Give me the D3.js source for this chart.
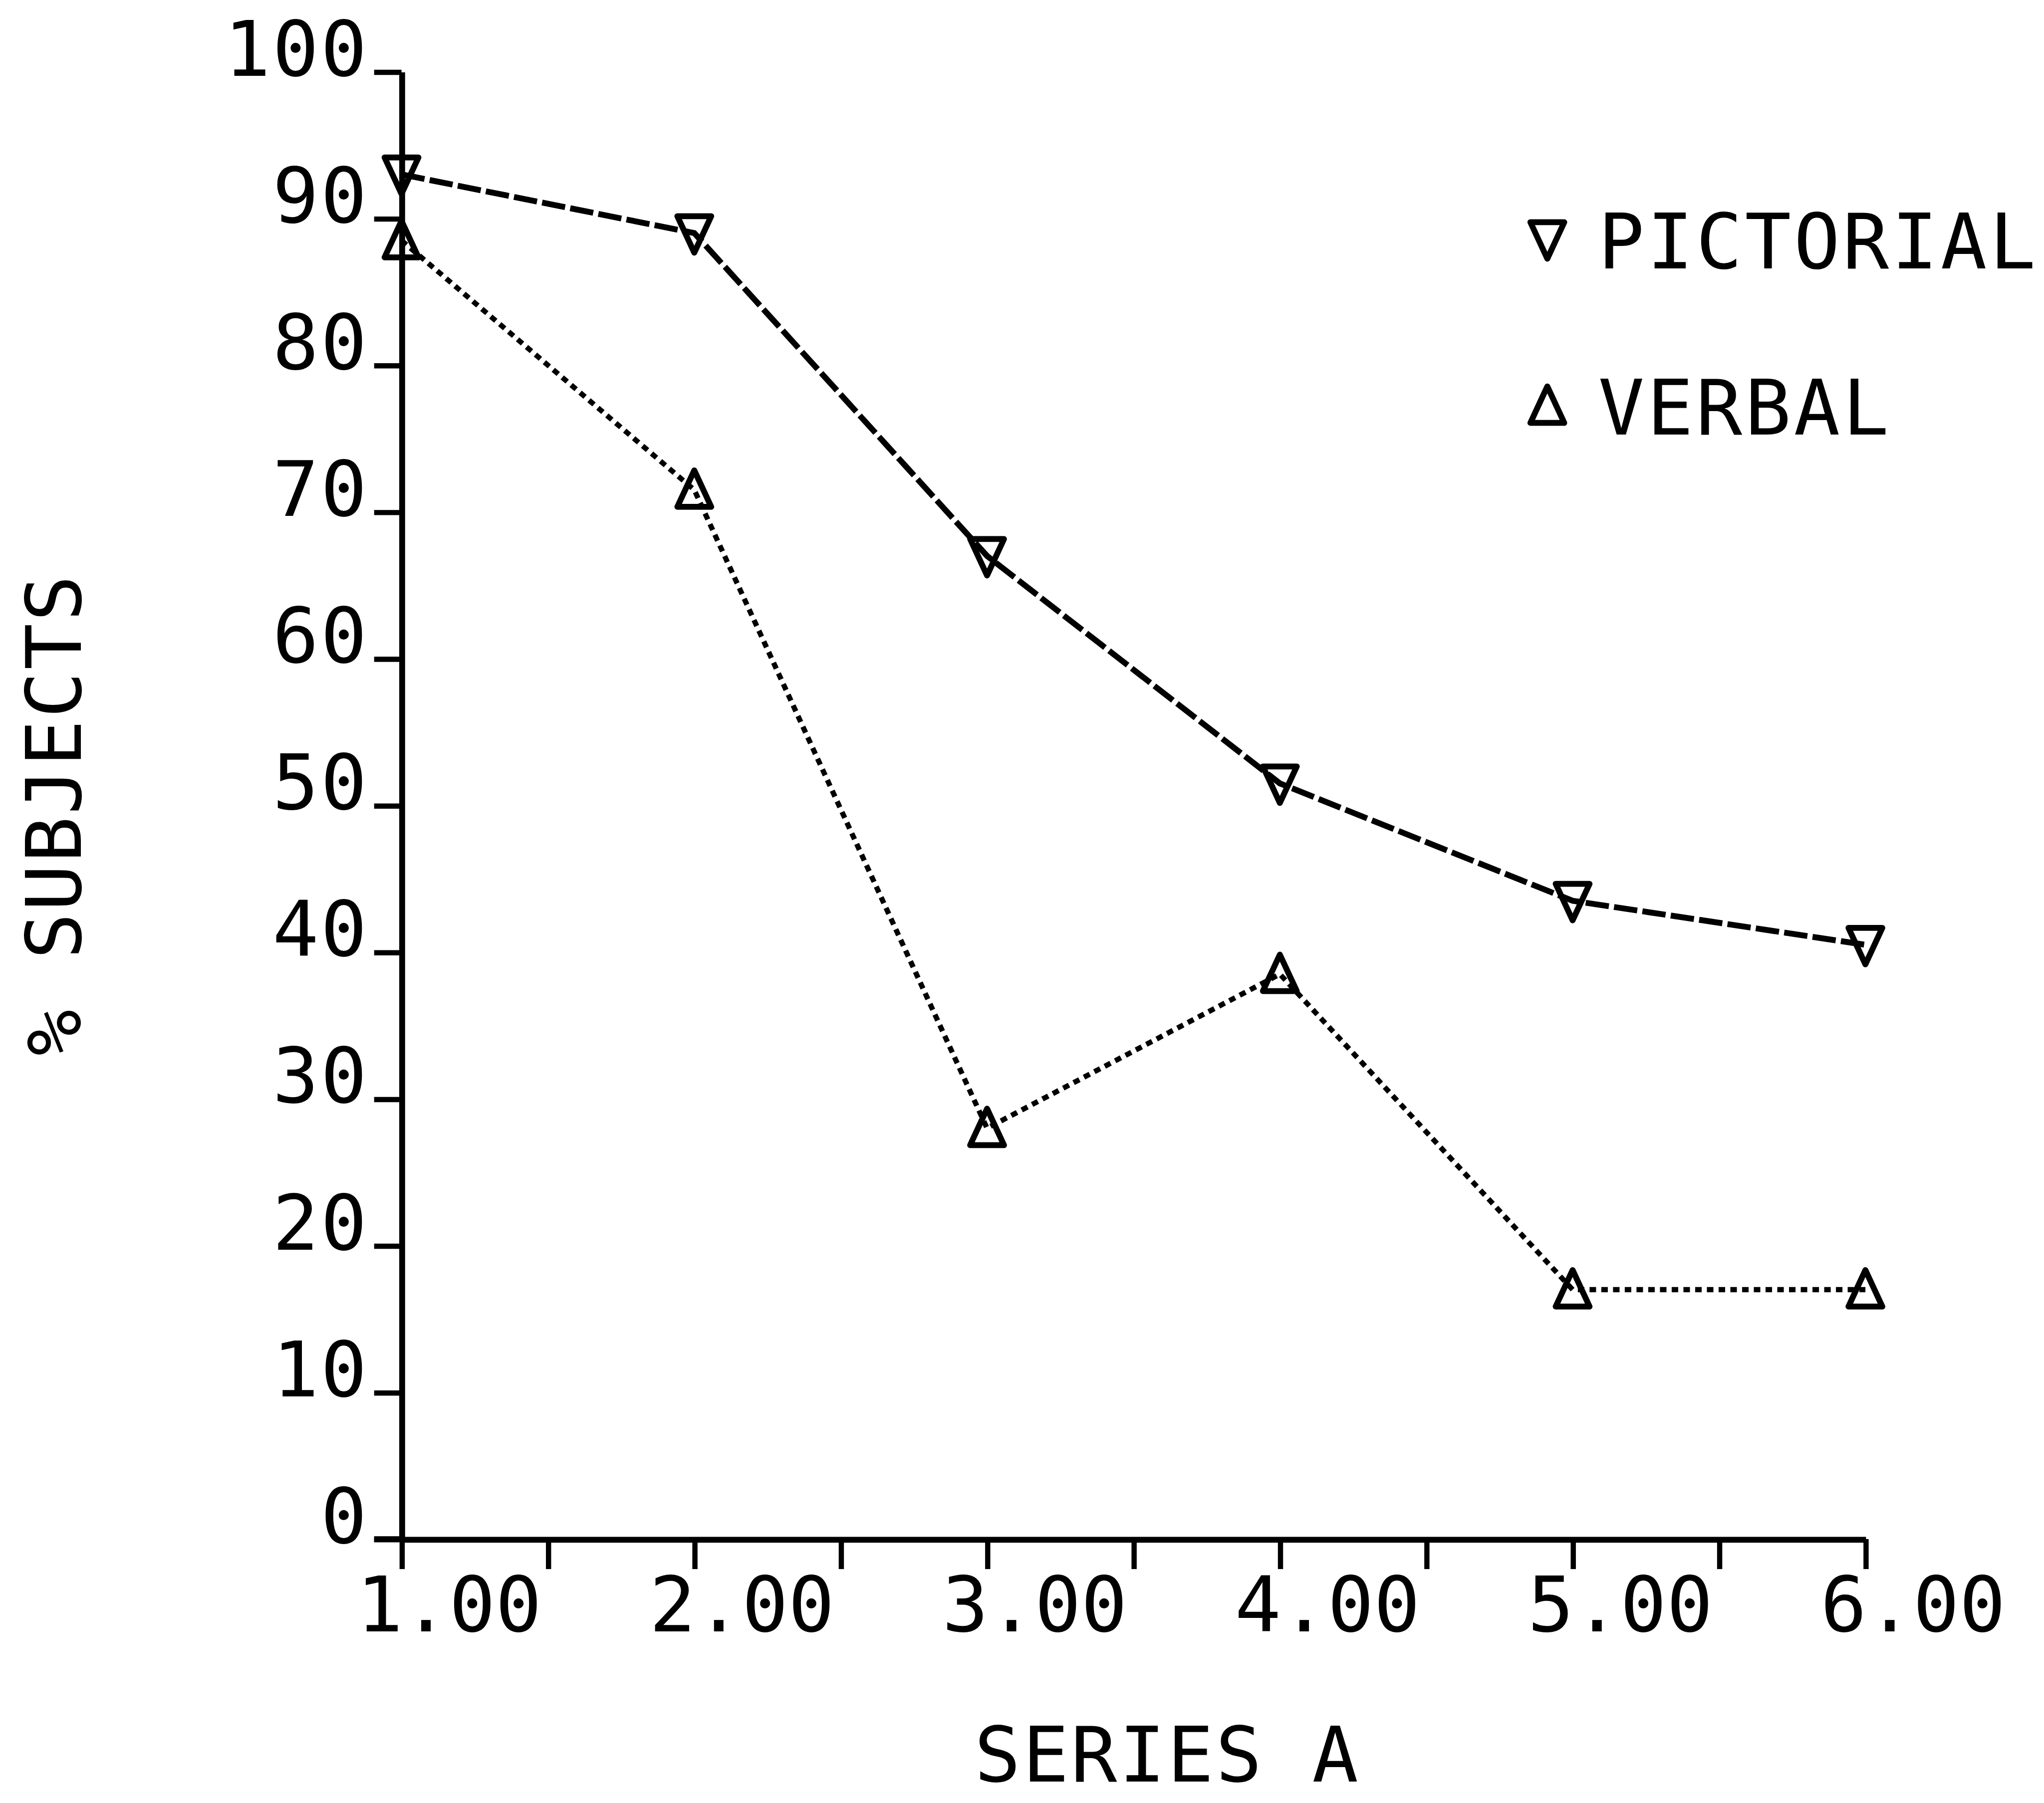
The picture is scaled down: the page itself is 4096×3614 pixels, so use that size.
<!DOCTYPE html>
<html>
<head>
<meta charset="utf-8">
<script src="https://cdn.jsdelivr.net/npm/d3@7"></script>
<style>
  html, body { margin: 0; padding: 0; background: #fff; }
  svg { display: block; }
  text { font-family: "DejaVu Sans Mono", "Liberation Mono", monospace; fill: #000; }
</style>
</head>
<body>
<script>
// Series values: % of subjects at each position of series A
const seriesX   = [1, 2, 3, 4, 5, 6];
const pictorial = [93, 89, 67, 51.5, 43.5, 40.5];
const verbal    = [88.5, 71.5, 28, 38.5, 17, 17];

// Axis ticks and labels
const yTicks  = [0, 10, 20, 30, 40, 50, 60, 70, 80, 90, 100];
const xTicks  = [1, 1.5, 2, 2.5, 3, 3.5, 4, 4.5, 5, 5.5, 6];
const xLabels = [1, 2, 3, 4, 5, 6];

const legendNames = ["PICTORIAL", "VERBAL"];
const xTitle = "SERIES A";
const yTitle = "% SUBJECTS";

// Drawing space (scaled to fill the window)
const W = 1568, H = 1383.5;
const svg = d3.select("body").append("svg")
  .attr("width", 4096).attr("height", 3614)
  .attr("viewBox", `0 0 ${W} ${H}`);

const FS = 59;

const x = d3.scaleLinear().domain([1, 6]).range([308, 1431]);
const y = d3.scaleLinear().domain([0, 100]).range([1181, 55]);

// Y axis
const yAxis = svg.append("g")
  .attr("transform", `translate(${x(1)},0)`)
  .call(d3.axisLeft(y).tickValues(yTicks).tickSize(21).tickSizeOuter(0)
    .tickFormat(d3.format("d")));
yAxis.select(".domain").attr("stroke", "#000").attr("stroke-width", 4.5);
yAxis.selectAll(".tick line").attr("stroke", "#000").attr("stroke-width", 4);
yAxis.selectAll(".tick text")
  .attr("x", -25).attr("y", 2.5).attr("dy", 0)
  .attr("text-anchor", "end")
  .style("font-size", FS + "px").style("letter-spacing", "1.5px")
  .style("font-family", '"DejaVu Sans Mono", monospace');

// X axis
const xAxis = svg.append("g")
  .attr("transform", `translate(0,${y(0)})`)
  .call(d3.axisBottom(x).tickValues(xTicks).tickSize(23).tickSizeOuter(0)
    .tickFormat(d => xLabels.includes(d) ? d3.format(".2f")(d) : ""));
xAxis.select(".domain").attr("stroke", "#000").attr("stroke-width", 4.5);
xAxis.selectAll(".tick line").attr("stroke", "#000").attr("stroke-width", 4);
xAxis.selectAll(".tick text")
  .attr("x", -35).attr("y", 1252 - 1181).attr("dy", 0)
  .attr("text-anchor", "start")
  .style("font-size", FS + "px")
  .style("font-family", '"DejaVu Sans Mono", monospace');
// Left stub of the zero tick
svg.append("line")
  .attr("x1", x(1) - 21).attr("x2", x(1))
  .attr("y1", y(0)).attr("y2", y(0))
  .attr("stroke", "#000").attr("stroke-width", 4.5);

// Series lines
const rows = (vals) => seriesX.map((v, i) => ({ x: v, v: vals[i] }));
const line = d3.line().x(d => x(d.x)).y(d => y(d.v));

svg.append("path").datum(rows(pictorial))
  .attr("d", line).attr("fill", "none")
  .attr("stroke", "#000").attr("stroke-width", 4.5)
  .attr("stroke-dasharray", "18,4");

svg.append("path").datum(rows(verbal))
  .attr("d", line).attr("fill", "none")
  .attr("stroke", "#000").attr("stroke-width", 4)
  .attr("stroke-dasharray", "5,4");

// Triangle markers
const hw = 13, hh = 14;
const downTri = (cx, cy) => `M${cx - hw},${cy - hh + 1}L${cx + hw},${cy - hh + 1}L${cx},${cy + hh + 1}Z`;
const upTri   = (cx, cy) => `M${cx},${cy - hh - 1}L${cx + hw},${cy + hh - 1}L${cx - hw},${cy + hh - 1}Z`;

svg.append("g").selectAll("path").data(rows(pictorial)).join("path")
  .attr("d", d => downTri(x(d.x), y(d.v)))
  .attr("fill", "none").attr("stroke", "#000").attr("stroke-width", 4.5)
  .attr("stroke-linejoin", "round");

svg.append("g").selectAll("path").data(rows(verbal)).join("path")
  .attr("d", d => upTri(x(d.x), y(d.v)))
  .attr("fill", "none").attr("stroke", "#000").attr("stroke-width", 4.5)
  .attr("stroke-linejoin", "round");

// Legend
const legend = svg.append("g");
const legendRows = [
  { name: legendNames[0], mark: downTri, cy: 183.5, base: 206 },
  { name: legendNames[1], mark: upTri,   cy: 311.5, base: 333.5 }
];
legend.selectAll("path").data(legendRows).join("path")
  .attr("d", d => d.mark(1187, d.cy))
  .attr("fill", "none").attr("stroke", "#000").attr("stroke-width", 4.5)
  .attr("stroke-linejoin", "round");
legend.selectAll("text").data(legendRows).join("text")
  .attr("x", 1226).attr("y", d => d.base)
  .style("font-size", FS + "px").style("letter-spacing", "2px")
  .text(d => d.name);

// Axis titles
svg.append("text")
  .attr("x", 895.5).attr("y", 1367)
  .attr("text-anchor", "middle")
  .style("font-size", FS + "px").style("letter-spacing", "1.5px")
  .text(xTitle);

svg.append("text")
  .attr("transform", "translate(62,625) rotate(-90)")
  .attr("text-anchor", "middle")
  .style("font-size", FS + "px").style("letter-spacing", "1.5px")
  .text(yTitle);
</script>
</body>
</html>
